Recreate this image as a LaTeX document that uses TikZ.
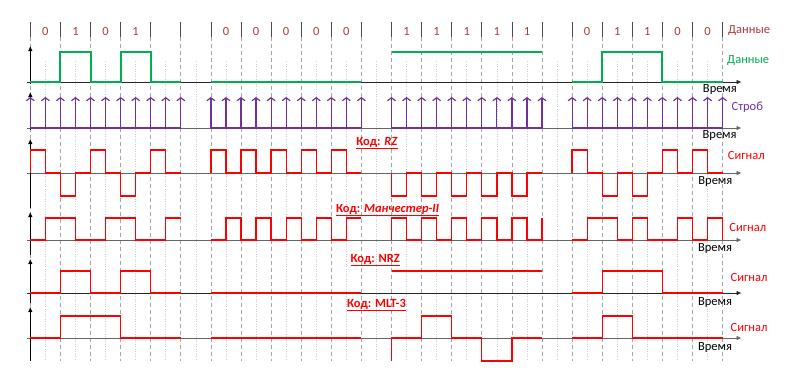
\documentclass[tikz,border=0pt]{standalone}
\usepackage{fontspec}
\setmainfont{Carlito}
\usetikzlibrary{arrows.meta}
\definecolor{bitred}{RGB}{170,60,60}
\definecolor{datagreen}{RGB}{0,176,80}
\definecolor{strobecol}{RGB}{112,48,160}
\definecolor{sigred}{RGB}{255,0,0}
\begin{document}
\begin{tikzpicture}[x=30.1pt,y=-1pt,xshift=30.3pt,
    every node/.style={inner sep=0pt,font=\fontsize{12.5}{14}\selectfont},
    tick/.style={black!70,line width=0.8pt},
    bitline/.style={black!35,line width=0.8pt,dash pattern=on 4pt off 3pt},
    halfline/.style={black!20,line width=0.7pt,dash pattern=on 1pt off 1.5pt},
    axis/.style={line width=0.8pt,-{Latex[length=5pt,width=4.5pt]}},
    dataline/.style={datagreen,line width=2pt},
    strobeline/.style={strobecol,line width=1.2pt},
    strobetip/.style={strobeline,-{Straight Barb[length=3pt,width=8pt]}},
    sigline/.style={sigred,line width=1.3pt},
    bit/.style={text=bitred},
    code/.style={text=sigred,font=\fontsize{12.5}{14}\selectfont\bfseries}]
  \useasboundingbox (-1.0066,0) rectangle (25.5714,389);

  \foreach \k in {0,...,23} {
    \draw[tick] (\k,22) -- (\k,37);
    \draw[bitline] (\k,37) -- (\k,361);
  }
  \foreach \k in {0,...,22}
    \draw[halfline] (\k+0.5,61) -- (\k+0.5,361);

  \draw[axis,black!85] (-0.12,82) -- (23.63,82);
  \draw[axis,black!60] (-0.12,128) -- (23.63,128);
  \draw[axis,black!60] (-0.12,173) -- (23.63,173);
  \draw[axis,black!60] (-0.12,240) -- (23.63,240);
  \draw[axis,black!85] (-0.12,293) -- (23.63,293);
  \draw[axis,black!60] (-0.12,338) -- (23.63,338);
  \draw[axis,black] (0,84) -- (0,46);
  \draw[axis,black] (0,130) -- (0,92);
  \draw[axis,black] (0,208) -- (0,139);
  \draw[axis,black] (0,255) -- (0,212);
  \draw[axis,black] (0,303) -- (0,259);
  \draw[axis,black] (0,361) -- (0,307);

  \draw[dataline] (0,82) -| (1,52) -| (2,82) -| (3,52) -| (4,82) -- (5,82);
  \draw[dataline] (6,82) -- (11,82);
  \draw[dataline] (12,52) -- (17,52);
  \draw[dataline] (18,82) -| (19,52) -| (21,82) -- (23,82);

  \foreach \g in {0,6,12,18} {
    \draw[strobeline] (\g,128) -- (\g+5,128);
    \foreach \i in {0,...,10}
      \draw[strobetip] (\g+\i/2,128) -- (\g+\i/2,97);
  }

  \draw[sigline] (0,173) |- (0.5,150) |- (1,173) |- (1.5,196) |- (2,173) |- (2.5,150) |- (3,173) |- (3.5,196) |- (4,173) |- (4.5,150) |- (5,173);
  \draw[sigline] (6,173) |- (6.5,150) |- (7,173) |- (7.5,150) |- (8,173) |- (8.5,150) |- (9,173) |- (9.5,150) |- (10,173) |- (10.5,150) |- (11,173);
  \draw[sigline] (12,173) |- (12.5,196) |- (13,173) |- (13.5,196) |- (14,173) |- (14.5,196) |- (15,173) |- (15.5,196) |- (16,173) |- (16.5,196) |- (17,173);
  \draw[sigline] (18,173) |- (18.5,150) |- (19,173) |- (19.5,196) |- (20,173) |- (20.5,196) |- (21,173) |- (21.5,150) |- (22,173) |- (22.5,150) |- (23,173);

  \draw[sigline] (0,240) -| (0.5,218) -| (1.5,240) -| (2.5,218) -| (3.5,240) -| (4.5,218) -- (5,218);
  \draw[sigline] (6,240) -| (6.5,218) -| (7,240) -| (7.5,218) -| (8,240) -| (8.5,218) -| (9,240) -| (9.5,218) -| (10,240) -| (10.5,218) -- (11,218);
  \draw[sigline] (12,240) |- (12.5,218) |- (13,240) |- (13.5,218) |- (14,240) |- (14.5,218) |- (15,240) |- (15.5,218) |- (16,240) |- (16.5,218) |- (17,240) -- (17,218);
  \draw[sigline] (18,240) -| (18.5,218) -| (19.5,240) -| (20,218) -| (20.5,240) -| (21.5,218) -| (22,240) -| (22.5,218) -| (23,240);

  \draw[sigline] (0,293) -| (1,271) -| (2,293) -| (3,271) -| (4,293) -- (5,293);
  \draw[sigline] (6,293) -- (11,293);
  \draw[sigline] (12,271) -- (17,271);
  \draw[sigline] (18,293) -| (19,271) -| (21,293) -- (23,293);

  \draw[sigline] (0,338) -| (1,316) -| (3,338) -- (5,338);
  \draw[sigline] (6,338) -- (11,338);
  \draw[sigline] (12,361) |- (13,338) |- (14,316) |- (15,338) |- (16,361) |- (17,338);
  \draw[sigline] (18,338) -| (19,316) -| (20,338) -- (23,338);

  \foreach \k/\b in {0/0,1/1,2/0,3/1,6/0,7/0,8/0,9/0,10/0,12/1,13/1,14/1,15/1,16/1,18/0,19/1,20/1,21/0,22/0}
    \node[bit] (bit\k) at (\k+0.5,31) {\b};

  \node[text=bitred] (bitsname) at (23.88,30) {Данные};
  \node[text=datagreen] (dataname) at (23.85,60) {Данные};
  \node[text=strobecol] (strobename) at (23.82,107) {Строб};
  \node[text=sigred] (sigrz) at (23.79,155) {Сигнал};
  \node[text=sigred] (sigmanch) at (23.84,227) {Сигнал};
  \node[text=sigred] (signrz) at (23.88,277) {Сигнал};
  \node[text=sigred] (sigmlt) at (23.88,327) {Сигнал};

  \node (timedata) at (22.91,89) {Время};
  \node (timestrobe) at (22.9,135) {Время};
  \node (timerz) at (22.76,181) {Время};
  \node (timemanch) at (22.75,248) {Время};
  \node (timenrz) at (22.75,302) {Время};
  \node (timemlt) at (22.75,347) {Время};

  \node[code] (rz) at (11.52,143) {\underline{Код: \textit{RZ}}};
  \node[code] (manch) at (11.87,210) {\underline{Код: \textit{Манчестер-II}}};
  \node[code] (nrz) at (11.46,260) {\underline{Код: NRZ}};
  \node[code] (mlt) at (11.5,305) {\underline{Код: MLT-3}};
\end{tikzpicture}
\end{document}
